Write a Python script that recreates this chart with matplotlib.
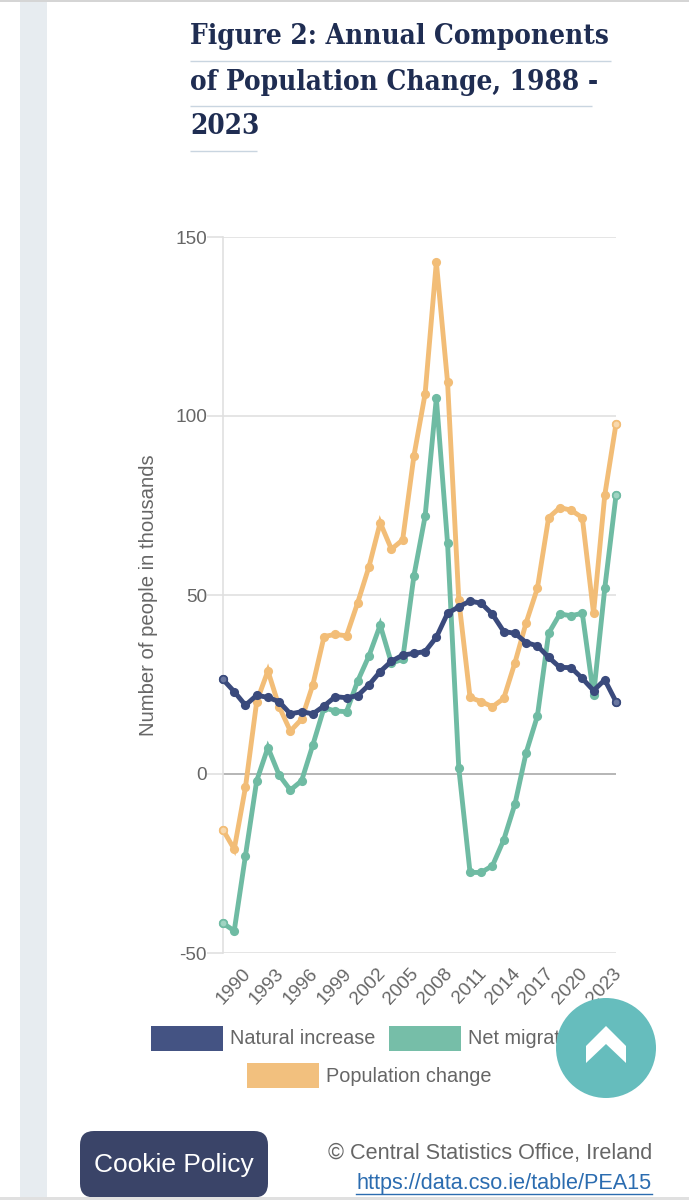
import matplotlib
matplotlib.use("Agg")
import matplotlib.pyplot as plt
from matplotlib.patches import Rectangle, FancyBboxPatch, Circle, Polygon
from matplotlib.transforms import ScaledTranslation

years = list(range(1988, 2024))
natural_increase = [26.4, 23.0, 19.2, 22.0, 21.4, 20.2, 16.8, 17.4, 16.8, 19.0, 21.6, 21.3,
                    21.9, 24.9, 28.6, 31.5, 33.2, 33.7, 34.2, 38.2, 44.9, 46.7, 48.3, 47.7,
                    44.6, 39.8, 39.3, 36.7, 35.8, 32.6, 29.8, 29.7, 26.7, 23.3, 26.3, 20.2]
net_migration = [-41.7, -43.8, -22.8, -1.9, 7.4, -0.3, -4.5, -1.9, 8.1, 18.5, 17.6, 17.4,
                 26.0, 33.0, 41.6, 31.0, 32.0, 55.3, 72.0, 105.0, 64.4, 1.6, -27.5, -27.5,
                 -25.6, -18.4, -8.4, 6.0, 16.2, 39.3, 44.7, 44.2, 44.9, 22.0, 51.9, 77.8]
population_change = [-15.6, -21.0, -3.7, 20.2, 28.8, 18.8, 12.0, 15.3, 24.9, 38.4, 39.0, 38.6,
                     47.9, 57.9, 70.2, 62.8, 65.4, 88.8, 106.2, 143.0, 109.4, 48.6, 21.4, 20.2,
                     18.8, 21.1, 31.1, 42.3, 51.9, 71.6, 74.4, 73.7, 71.6, 44.9, 77.9, 97.8]
y_ticks = [-50, 0, 50, 100, 150]
x_ticks = list(range(1990, 2024, 3))
title_lines = ["Figure 2: Annual Components", "of Population Change, 1988 -", "2023"]

NAVY, GREEN, ORANGE = "#3a4a7c", "#6fbba3", "#f2bd77"
NAVY_L, GREEN_L, ORANGE_L = "#6a77a0", "#9fd4c2", "#f8d9ae"
GREY = "#666666"
W, H = 689, 1200
plt.rcParams["font.family"] = ["Liberation Sans", "DejaVu Sans"]

fig = plt.figure(figsize=(W / 100, H / 100), dpi=100, facecolor="white")
ax = fig.add_axes([223 / W, 1 - 953 / H, (616 - 223) / W, (953 - 237) / H], zorder=2)
ax.patch.set_alpha(0)
ax.set_xlim(1988, 2023)
ax.set_ylim(-50, 150)

for v in y_ticks:
    ax.axhline(v, color="#a9a9a9" if v == 0 else "#e0e0e0", lw=1.2, zorder=1)
for s in ("top", "right", "bottom"):
    ax.spines[s].set_visible(False)
ax.spines["left"].set_color("#e0e0e0")
ax.spines["left"].set_linewidth(1.2)

for vals, c, cl, z in [(population_change, ORANGE, ORANGE_L, 3),
                       (net_migration, GREEN, GREEN_L, 4),
                       (natural_increase, NAVY, NAVY_L, 5)]:
    ax.plot(years, vals, color=c, lw=3.5, marker="o", ms=6.6, mfc=c, mec=c, mew=0,
            solid_joinstyle="miter", clip_on=False, zorder=z)
    ax.plot([years[0], years[-1]], [vals[0], vals[-1]], ls="none", marker="o", ms=5.4,
            mfc=cl, mec=c, mew=1.2, clip_on=False, zorder=z)

ax.set_yticks(y_ticks)
ax.set_yticklabels([str(v) for v in y_ticks], fontsize=13.7, color=GREY)
ax.tick_params(axis="y", length=11.5, width=1.2, color="#e0e0e0", pad=0)
ax.set_xticks(x_ticks)
ax.set_xticklabels([str(v) for v in x_ticks], fontsize=13.7, color=GREY, rotation=47,
                   ha="right", va="top", rotation_mode="anchor")
ax.tick_params(axis="x", length=0, pad=9)
shift = ScaledTranslation(-4 / 100, 0, fig.dpi_scale_trans)
for lab in ax.get_xticklabels():
    lab.set_transform(lab.get_transform() + shift)
ax.set_ylabel("Number of people in thousands", fontsize=14.6, color=GREY, va="center")
ax.yaxis.set_label_coords((148 - 223) / (616 - 223), (953 - 595) / (953 - 237))

# page furniture, in screen pixels
pg = fig.add_axes([0, 0, 1, 1], zorder=3)
pg.set_xlim(0, W)
pg.set_ylim(H, 0)
pg.axis("off")
pg.patch.set_alpha(0)
pg.add_patch(Rectangle((20, 0), 27, H, color="#e7ecf0", lw=0, zorder=0))
pg.add_patch(Rectangle((0, 0), W, 1.5, color="#d5d5d5", lw=0, zorder=0))

for line, yc, yl, xr in zip(title_lines, (37, 82, 127), (61, 106, 151), (611, 592, 257)):
    pg.text(190, yc, line, fontsize=20.0, fontweight="bold", color="#1f2d52", va="center",
            ha="left", family=["DejaVu Serif", "DejaVu Sans"], stretch="condensed")
    pg.plot([190, xr], [yl, yl], color="#c9d5e0", lw=1.0, solid_capstyle="butt")

for x0, y0, c, label in [(151, 1026, NAVY, "Natural increase"),
                         (389, 1026, GREEN, "Net migration"),
                         (247, 1063, ORANGE, "Population change")]:
    pg.add_patch(Rectangle((x0, y0), 71.5, 25, fc=c, ec="none", alpha=0.95, zorder=1))
    pg.text(x0 + 79, y0 + 13, label, fontsize=14.3, color=GREY, va="center", ha="left", zorder=1)

pg.add_patch(FancyBboxPatch((80, 1131), 188, 66.5, boxstyle="round,pad=0,rounding_size=14",
                            lw=0, fc="#3a4468", zorder=2))
pg.text(174, 1165, "Cookie Policy", fontsize=19, color="white", ha="center", va="center", zorder=3)
pg.text(652, 1153, "\u00a9 Central Statistics Office, Ireland", fontsize=15.6, color=GREY,
        ha="right", va="center", zorder=3)
pg.text(652, 1184, "https://data.cso.ie/table/PEA15", fontsize=15.6, color="#2b6cb0",
        ha="right", va="center", zorder=3)
pg.plot([356, 652], [1194, 1194], color="#2b6cb0", lw=1.0, zorder=3)
pg.add_patch(Rectangle((0, 1197), W, 3, color="#e0e0e0", lw=0, zorder=4))

pg.add_patch(Circle((606, 1048), 50, fc="#66bdbd", ec="none", zorder=6))
pg.add_patch(Polygon([(586, 1046), (606, 1026), (626, 1046), (626, 1063), (606, 1044), (586, 1063)],
                     fc="white", ec="none", zorder=7))

fig.savefig("out.png", dpi=100, facecolor="white")
